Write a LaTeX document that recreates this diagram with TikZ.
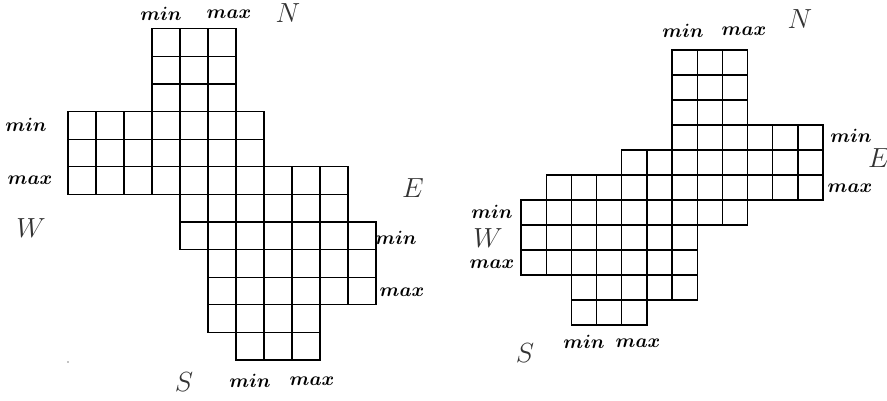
\documentclass[tikz,border=0pt]{standalone}
\begin{document}
\begin{tikzpicture}[x=0.75pt, y=-0.75pt, line width=1pt,
    mmlabel/.style={font=\fontsize{14.5}{14.5}\selectfont\boldmath, inner sep=0pt},
    sidelabel/.style={font=\fontsize{20}{20}\selectfont, text=black!80, inner sep=0pt}]
  \useasboundingbox (0,0) rectangle (887,400);

  % left cross
  \begin{scope}[shift={(68,360)}, x=21pt, y=20.7pt, xstep=21pt, ystep=20.7pt]
    \draw (3,9) grid (6,12) rectangle (3,9);
    \draw (0,7) grid (7,9) rectangle (0,7);
    \draw (0,6) grid (10,7) rectangle (0,6);
    \draw (4,5) grid (10,6) rectangle (4,5);
    \draw (4,4) grid (11,5) rectangle (4,4);
    \draw (5,2) grid (11,4) rectangle (5,2);
    \draw (5,1) grid (9,2) rectangle (5,1);
    \draw (6,0) grid (9,1) rectangle (6,0);
  \end{scope}

  \node[mmlabel] (minN1) at (161,14) {$min$};
  \node[mmlabel] (maxN1) at (229,14) {$max$};
  \node[sidelabel] (N1) at (288,13) {$N$};
  \node[mmlabel] (minW1) at (26,125) {$min$};
  \node[mmlabel] (maxW1) at (30,180) {$max$};
  \node[sidelabel] (W1) at (31,228) {$W$};
  \node[sidelabel] (E1) at (413,188) {$E$};
  \node[mmlabel] (minE1) at (396,238) {$min$};
  \node[mmlabel] (maxE1) at (402,292) {$max$};
  \node[sidelabel] (S1) at (184,382) {$S$};
  \node[mmlabel] (minS1) at (250,381) {$min$};
  \node[mmlabel] (maxS1) at (312,381) {$max$};
  \fill (68,362) circle (0.6);

  % right cross
  \begin{scope}[shift={(521,325)}, x=18.88pt, y=18.75pt, xstep=18.88pt, ystep=18.75pt]
    \draw (6,8) grid (9,11) rectangle (6,8);
    \draw (6,7) grid (12,8) rectangle (6,7);
    \draw (4,6) grid (12,7) rectangle (4,6);
    \draw (1,5) grid (12,6) rectangle (1,5);
    \draw (0,4) grid (9,5) rectangle (0,4);
    \draw (0,2) grid (7,4) rectangle (0,2);
    \draw (2,1) grid (7,2) rectangle (2,1);
    \draw (2,0) grid (5,1) rectangle (2,0);
  \end{scope}

  \node[mmlabel] (minN2) at (683,31) {$min$};
  \node[mmlabel] (maxN2) at (744,31) {$max$};
  \node[sidelabel] (N2) at (800,19) {$N$};
  \node[mmlabel] (minE2) at (851,136) {$min$};
  \node[sidelabel] (E2) at (879,158) {$E$};
  \node[mmlabel] (maxE2) at (850,188) {$max$};
  \node[mmlabel] (minW2) at (492,212) {$min$};
  \node[sidelabel] (W2) at (488,238) {$W$};
  \node[mmlabel] (maxW2) at (492,264) {$max$};
  \node[sidelabel] (S2) at (525,353) {$S$};
  \node[mmlabel] (minS2) at (584,342) {$min$};
  \node[mmlabel] (maxS2) at (638,343) {$max$};
\end{tikzpicture}
\end{document}
